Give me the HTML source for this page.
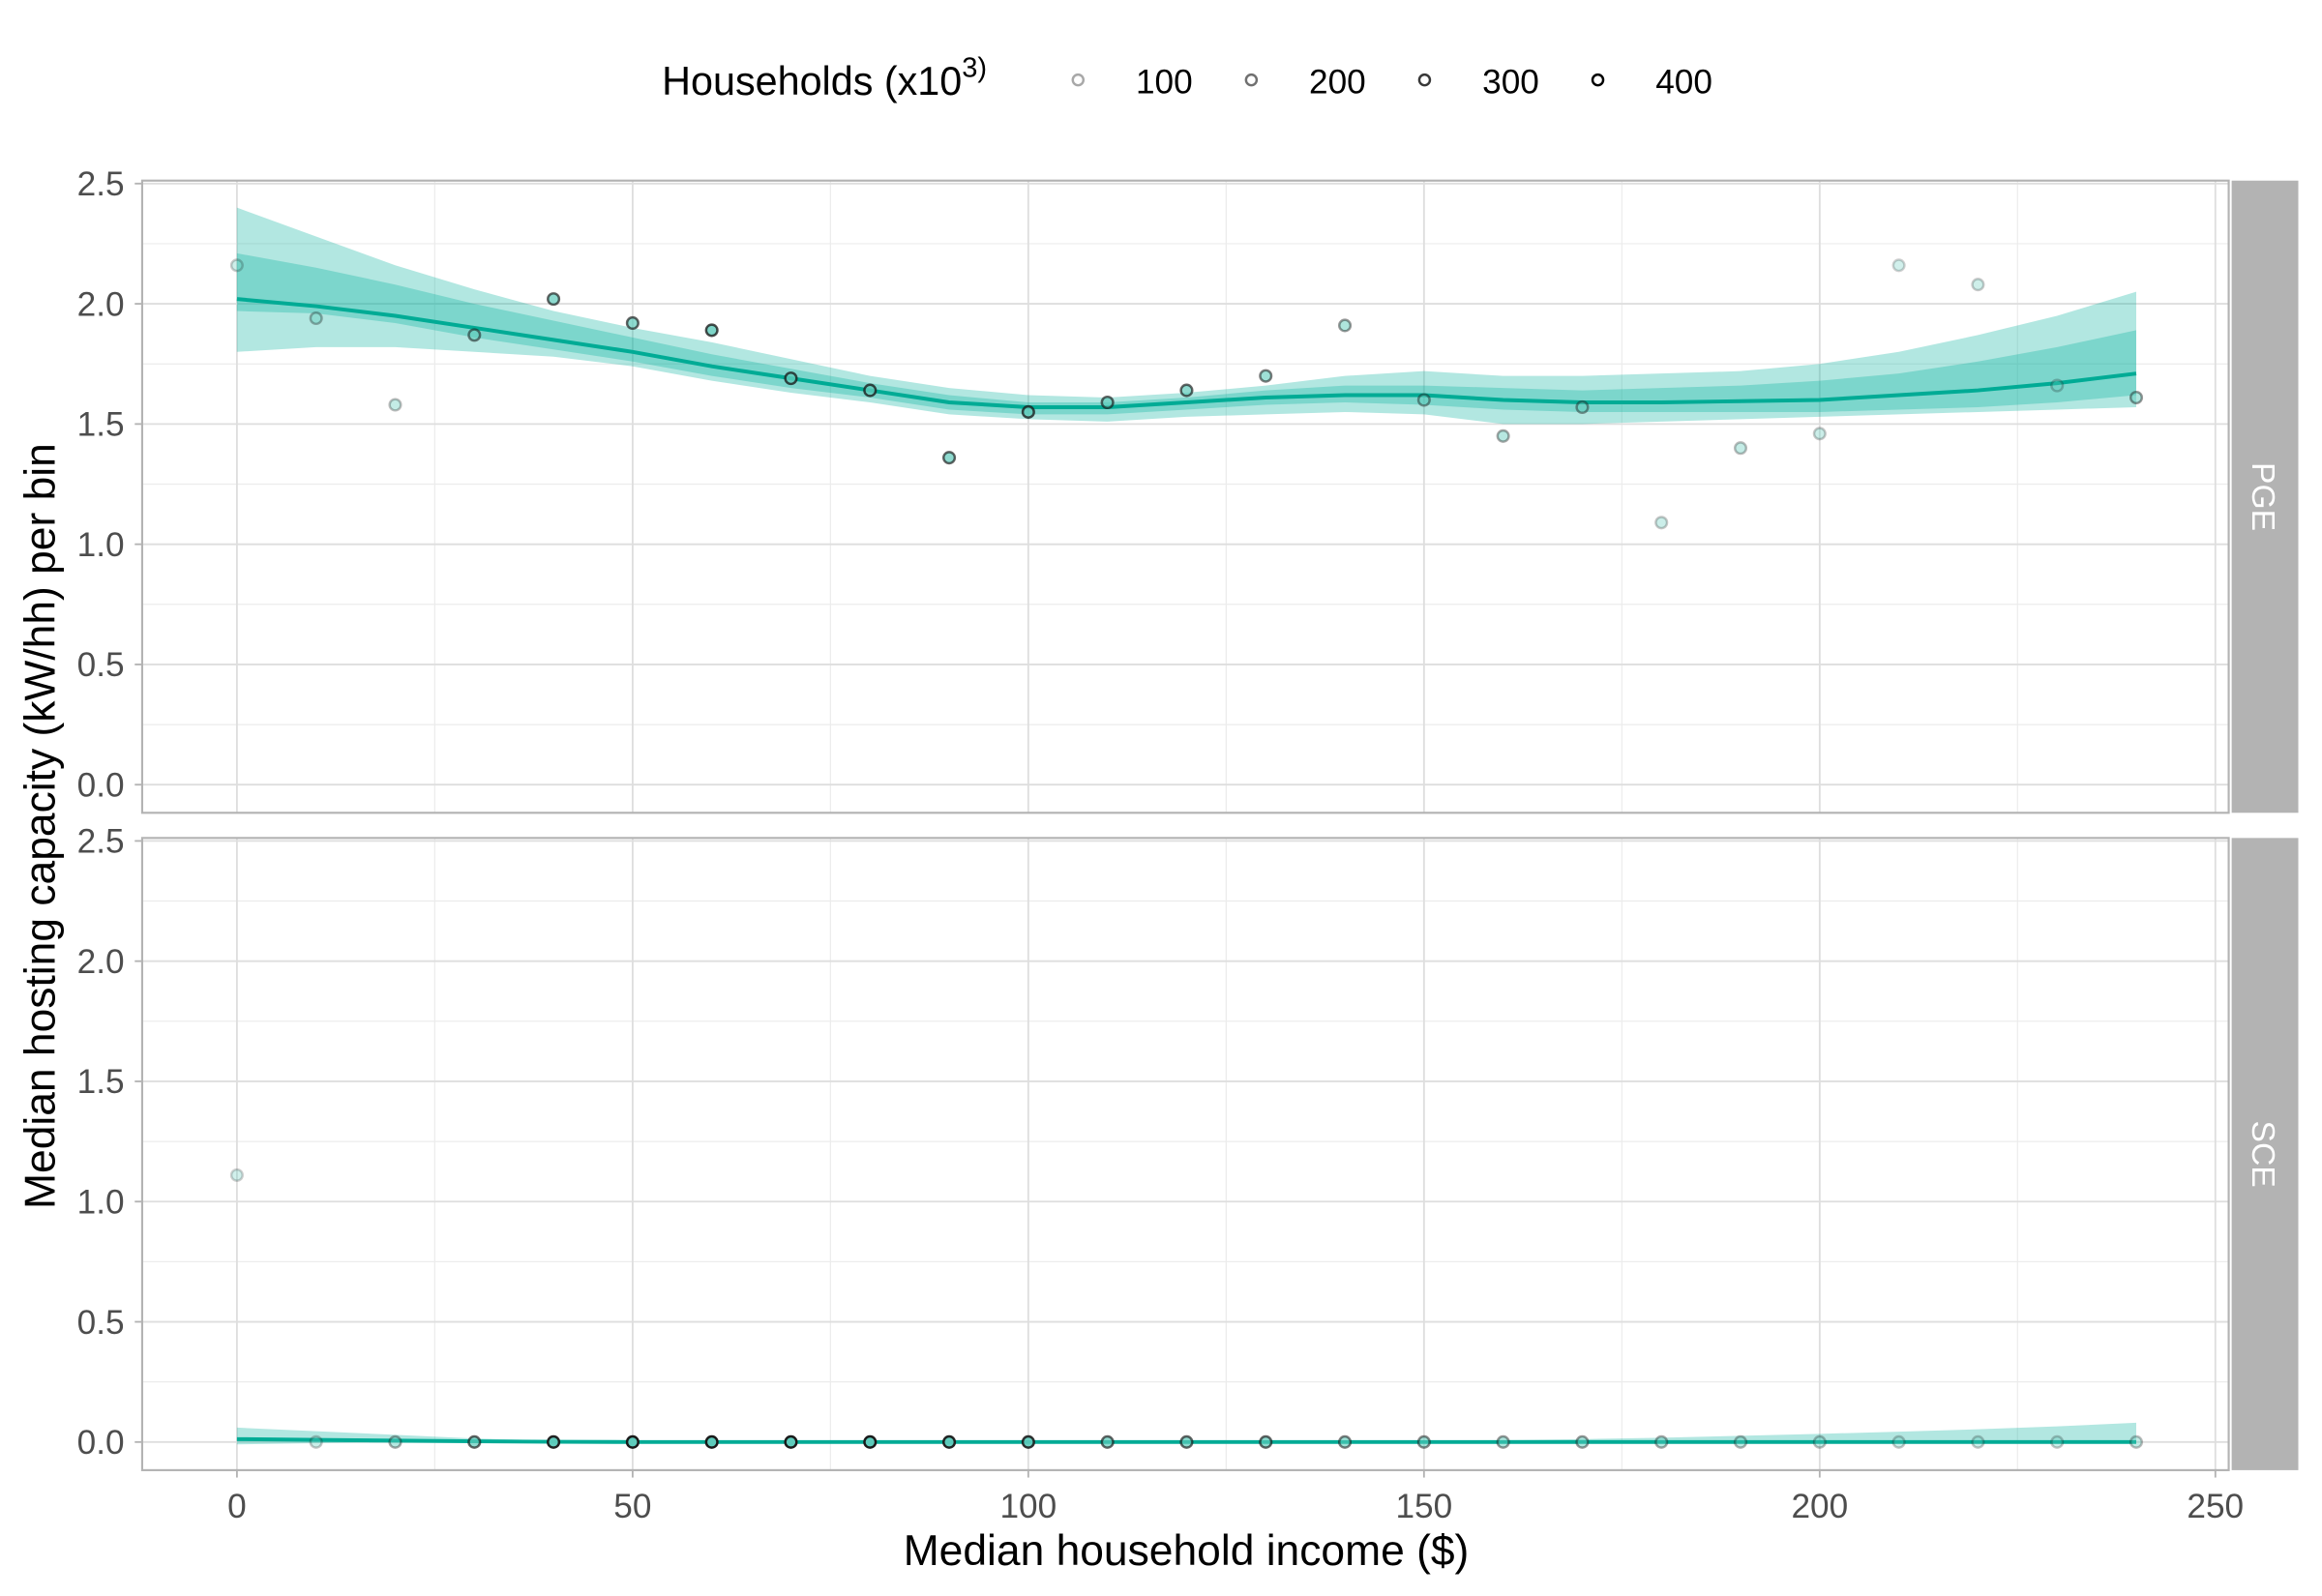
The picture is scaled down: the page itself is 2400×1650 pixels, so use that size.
<!DOCTYPE html>
<html><head><meta charset="utf-8"><style>
html,body{margin:0;padding:0;background:#fff;}
svg{display:block;font-family:"Liberation Sans",Arial,sans-serif;}
</style></head><body>
<svg id="chart" width="2400" height="1650" viewBox="0 0 1568 1078" preserveAspectRatio="none" xmlns="http://www.w3.org/2000/svg">
<rect x="0" y="0" width="1568" height="1078" fill="#fff"/>
<g id="legend">
<text x="447" y="64" font-size="27" fill="#000">Households (x10<tspan dy="-12" font-size="19">3)</tspan></text>
</g>
<g id="panels"></g>
<text x="801" y="1057" font-size="29" text-anchor="middle" fill="#000">Median household income ($)</text>
<text transform="translate(37,558) rotate(-90)" font-size="29" text-anchor="middle" fill="#000">Median hosting capacity (kW/hh) per bin</text>
</svg>
<script>
const incomes = [0,10,20,30,40,50,60,70,80,90,100,110,120,130,140,150,160,170,180,190,200,210,220,230,240];
const pgeValues = [2.16,1.94,1.58,1.87,2.02,1.92,1.89,1.69,1.64,1.36,1.55,1.59,1.64,1.70,1.91,1.60,1.45,1.57,1.09,1.40,1.46,2.16,2.08,1.66,1.61];
const pgeHouseholds = [50,100,80,200,250,250,300,300,300,250,300,250,250,200,150,150,120,150,60,80,60,40,50,60,150];
const pgeSmooth = [2.02,1.99,1.95,1.90,1.85,1.80,1.74,1.69,1.64,1.59,1.57,1.57,1.59,1.61,1.62,1.62,1.60,1.59,1.59,1.595,1.60,1.62,1.64,1.67,1.71];
const pgeOuterHi = [2.40,2.28,2.16,2.06,1.97,1.90,1.84,1.77,1.70,1.65,1.62,1.61,1.63,1.66,1.70,1.72,1.70,1.70,1.71,1.72,1.75,1.80,1.87,1.95,2.05];
const pgeOuterLo = [1.80,1.82,1.82,1.80,1.78,1.74,1.68,1.63,1.59,1.54,1.52,1.51,1.53,1.54,1.55,1.54,1.50,1.50,1.51,1.52,1.53,1.54,1.55,1.56,1.57];
const pgeInnerHi = [2.21,2.15,2.08,2.00,1.93,1.86,1.79,1.73,1.67,1.62,1.59,1.59,1.61,1.64,1.66,1.66,1.65,1.64,1.65,1.66,1.68,1.71,1.76,1.82,1.89];
const pgeInnerLo = [1.97,1.96,1.92,1.86,1.81,1.76,1.70,1.65,1.61,1.56,1.54,1.54,1.56,1.58,1.59,1.58,1.56,1.55,1.55,1.55,1.55,1.56,1.57,1.59,1.62];
const sceValues = [1.11,0,0,0,0,0,0,0,0,0,0,0,0,0,0,0,0,0,0,0,0,0,0,0,0];
const sceHouseholds = [40,60,120,250,380,400,400,400,400,380,350,250,250,250,200,180,150,150,120,100,80,60,60,60,80];
const sceSmooth = [0.012,0.009,0.006,0.003,0.001,0,0,0,0,0,0,0,0,0,0,0,0,0,0,0,0,0,0,0,0];
const sceOuterHi = [0.06,0.045,0.03,0.015,0.006,0.003,0.002,0.002,0.002,0.002,0.002,0.002,0.003,0.004,0.005,0.006,0.008,0.012,0.018,0.026,0.034,0.043,0.053,0.065,0.08];
const sceOuterLo = [-0.01,-0.005,-0.002,0,0,0,0,0,0,0,0,0,0,0,0,0,0,0,0,0,0,0,0,0,0];
const xTicks = [0,50,100,150,200,250];
const yTicks = [0,0.5,1.0,1.5,2.0,2.5];
const legendValues = [100,200,300,400];

const NS = "http://www.w3.org/2000/svg";
const X0 = 96, X1 = 1505;
function xs(v){ return 160 + v*(1496-160)/250; }
function mk(tag, attrs, parent){ const e=document.createElementNS(NS,tag); for(const k in attrs) e.setAttribute(k,attrs[k]); parent.appendChild(e); return e; }
function alphaOf(h){ return Math.min(1, 0.12 + 0.88*h/400); }
const panels = document.getElementById('panels');
const legend = document.getElementById('legend');

legendValues.forEach((v,i)=>{
  const cx = 728 + i*117;
  const c = mk('circle',{cx:cx,cy:54,r:3.6,fill:'none',stroke:'#000','stroke-opacity':alphaOf(v),'stroke-width':1.6},legend);
  
  
  const t = mk('text',{x:cx+39,y:63,'font-size':23,'text-anchor':'start',fill:'#000'},legend);
  t.textContent = v;
  
  
});

function drawPanel(name, top, bottom, vals, hh, smooth, oHi, oLo, iHi, iLo, showX){
  const g = mk('g',{},panels);
  
  
  const y25 = top + 2;
  const y0 = top + 408;
  const ys = v => y0 - v*(y0-y25)/2.5;
  for(let v=0.25; v<2.6; v+=0.5) mk('line',{x1:X0,x2:X1,y1:ys(v),y2:ys(v),stroke:'#ececec','stroke-width':0.8},g);
  for(let v=25; v<260; v+=50) mk('line',{x1:xs(v),x2:xs(v),y1:top,y2:bottom,stroke:'#ececec','stroke-width':0.8},g);
  yTicks.forEach(v=>{
    mk('line',{x1:X0,x2:X1,y1:ys(v),y2:ys(v),stroke:'#dedede','stroke-width':1.2},g);
    mk('line',{x1:91,x2:X0,y1:ys(v),y2:ys(v),stroke:'#b3b3b3','stroke-width':1.2},g);
    const t = mk('text',{x:84,y:ys(v)+8,'font-size':23,'text-anchor':'end',fill:'#4d4d4d'},g);
    t.textContent = v.toFixed(1);
    
    
  });
  xTicks.forEach(v=>{
    mk('line',{x1:xs(v),x2:xs(v),y1:top,y2:bottom,stroke:'#dedede','stroke-width':1.2},g);
    if(showX){
      mk('line',{x1:xs(v),x2:xs(v),y1:bottom,y2:bottom+5,stroke:'#b3b3b3','stroke-width':1.2},g);
      const t = mk('text',{x:xs(v),y:bottom+32,'font-size':23,'text-anchor':'middle',fill:'#4d4d4d'},g);
      t.textContent = v;
      
      
    }
  });
  mk('rect',{x:X0,y:top,width:X1-X0,height:bottom-top,fill:'none',stroke:'#b3b3b3','stroke-width':1.4},g);
  function band(hi, lo, op, nm){
    let d = 'M' + incomes.map((x,i)=>xs(x)+','+ys(hi[i])).join('L');
    d += 'L' + incomes.slice().reverse().map((x,j)=>{const i=incomes.length-1-j; return xs(x)+','+ys(lo[i]);}).join('L') + 'Z';
    const p = mk('path',{d:d,fill:'#00b09b','fill-opacity':op},g);
    
    
  }
  band(oHi,oLo,0.3,'confidence-band-outer');
  if(iHi) band(iHi,iLo,0.3,'confidence-band-inner');
  const line = mk('path',{d:'M'+incomes.map((x,i)=>xs(x)+','+ys(smooth[i])).join('L'),fill:'none',stroke:'#00ab95','stroke-width':2.6},g);
  
  
  incomes.forEach((x,i)=>{
    const a = alphaOf(hh[i]);
    const c = mk('circle',{cx:xs(x),cy:ys(vals[i]),r:3.8,fill:'#5ecbbb','fill-opacity':Math.min(1,a*0.9+0.1),stroke:'#1a1a1a','stroke-opacity':a,'stroke-width':1.6},g);
    
    
  });
  const s = mk('rect',{x:1507,y:top,width:45,height:bottom-top,fill:'#b3b3b3'},g);
  
  
  const cy = (top+bottom)/2;
  const st = mk('text',{transform:'translate(1521,'+cy+') rotate(90)','font-size':22,'text-anchor':'middle',fill:'#fff'},g);
  st.textContent = name;
  
  
}
drawPanel('PGE',122,549,pgeValues,pgeHouseholds,pgeSmooth,pgeOuterHi,pgeOuterLo,pgeInnerHi,pgeInnerLo,false);
drawPanel('SCE',566,993,sceValues,sceHouseholds,sceSmooth,sceOuterHi,sceOuterLo,null,null,true);
</script>
</body></html>
